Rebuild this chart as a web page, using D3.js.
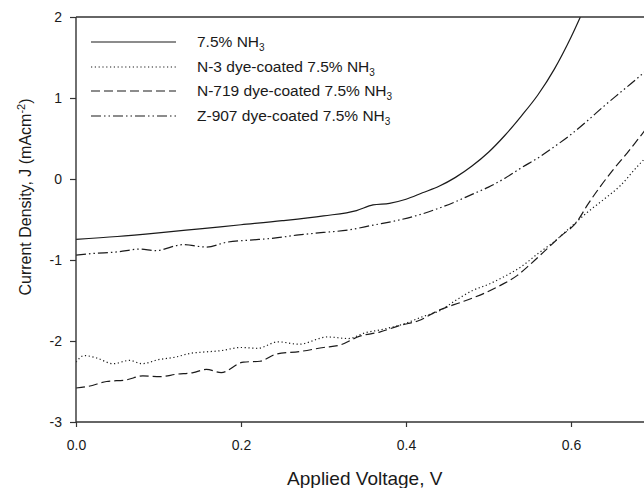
<!DOCTYPE html>
<html>
<head>
<meta charset="utf-8">
<script src="https://cdn.jsdelivr.net/npm/d3@7/dist/d3.min.js"></script>
<style>
    body { margin: 0; background: white; }
    svg { display: block; }
</style>
</head>
<body>
<div id="chart"></div>
<script>
// J-V curves

var xTicks = [0.0, 0.2, 0.4, 0.6];
var yTicks = [-3, -2, -1, 0, 1, 2];

var nh3V = [0, 0.05, 0.10, 0.15, 0.20, 0.25, 0.30, 0.34, 0.36, 0.38, 0.40, 0.42, 0.44, 0.46, 0.48, 0.50, 0.52, 0.54, 0.56, 0.58, 0.60, 0.62];
var nh3J = [-0.745, -0.71, -0.665, -0.615, -0.565, -0.515, -0.455, -0.39, -0.32, -0.30, -0.25, -0.17, -0.09, 0.02, 0.16, 0.33, 0.54, 0.78, 1.04, 1.36, 1.75, 2.2];

var n3V = [0, 0.01, 0.025, 0.045, 0.065, 0.08, 0.10, 0.12, 0.14, 0.15, 0.175, 0.20, 0.22, 0.245, 0.27, 0.305, 0.33, 0.35, 0.37, 0.40, 0.42, 0.44, 0.46, 0.48, 0.50, 0.52, 0.54, 0.56, 0.58, 0.60, 0.62, 0.64, 0.66, 0.68, 0.70];
var n3J = [-2.26, -2.18, -2.21, -2.28, -2.24, -2.28, -2.23, -2.20, -2.15, -2.14, -2.12, -2.08, -2.09, -2.01, -2.04, -1.95, -1.97, -1.90, -1.86, -1.78, -1.70, -1.63, -1.50, -1.38, -1.30, -1.20, -1.08, -0.92, -0.77, -0.59, -0.41, -0.25, -0.08, 0.15, 0.36];

var n719V = [0, 0.015, 0.037, 0.061, 0.081, 0.102, 0.122, 0.142, 0.158, 0.176, 0.203, 0.223, 0.243, 0.271, 0.30, 0.32, 0.344, 0.368, 0.392, 0.415, 0.44, 0.47, 0.495, 0.515, 0.535, 0.55, 0.567, 0.587, 0.607, 0.62, 0.635, 0.65, 0.668, 0.688, 0.70];
var n719J = [-2.58, -2.56, -2.50, -2.48, -2.43, -2.44, -2.41, -2.39, -2.35, -2.39, -2.26, -2.25, -2.16, -2.13, -2.08, -2.05, -1.94, -1.89, -1.81, -1.75, -1.62, -1.51, -1.41, -1.31, -1.19, -1.06, -0.90, -0.71, -0.53, -0.32, -0.10, 0.10, 0.32, 0.58, 0.74];

var z907V = [0, 0.02, 0.05, 0.078, 0.096, 0.13, 0.158, 0.183, 0.21, 0.24, 0.27, 0.30, 0.33, 0.36, 0.39, 0.42, 0.44, 0.46, 0.48, 0.50, 0.52, 0.54, 0.56, 0.58, 0.60, 0.62, 0.64, 0.66, 0.68, 0.70];
var z907J = [-0.94, -0.92, -0.90, -0.865, -0.885, -0.81, -0.84, -0.78, -0.755, -0.73, -0.69, -0.66, -0.63, -0.57, -0.51, -0.43, -0.36, -0.28, -0.19, -0.10, 0.01, 0.14, 0.26, 0.40, 0.55, 0.72, 0.90, 1.07, 1.24, 1.42];

var seriesNames = ["7.5% NH", "N-3 dye-coated 7.5% NH", "N-719 dye-coated 7.5% NH", "Z-907 dye-coated 7.5% NH"];

function DrawChart() {
    var w = 644, h = 488;
    var left = 76, top = 17, right = 653.5, bottom = 422;
    var font = "'Liberation Sans', Arial, sans-serif";
    var ink = "#1a1a1a";

    var dashes = [null, "1.2,2.6", "9,4", "10,3,1.5,3,1.5,3"];

    var series = [
	{name: seriesNames[0], v: nh3V, j: nh3J},
	{name: seriesNames[1], v: n3V, j: n3J},
	{name: seriesNames[2], v: n719V, j: n719J},
	{name: seriesNames[3], v: z907V, j: z907J}
    ];

    var x = d3.scaleLinear().domain([0, 0.7]).range([left, right]);
    var y = d3.scaleLinear().domain([-3, 2]).range([bottom, top]);

    var svg = d3.select("#chart").append("svg")
	.attr("width", w)
	.attr("height", h)
	.style("font-family", font);

    svg.append("clipPath").attr("id", "plotclip")
	.append("rect")
	.attr("x", left).attr("y", top)
	.attr("width", right - left).attr("height", bottom - top);

    // Curves
    var line = d3.line()
	.x(function(d) { return x(d[0]); })
	.y(function(d) { return y(d[1]); })
	.curve(d3.curveMonotoneX);

    svg.append("g").attr("clip-path", "url(#plotclip)")
	.selectAll("path")
	.data(series)
	.enter().append("path")
	.attr("d", function(s) { return line(d3.zip(s.v, s.j)); })
	.attr("fill", "none")
	.attr("stroke", ink)
	.attr("stroke-width", 1.2)
	.attr("stroke-dasharray", function(s, i) { return dashes[i]; });

    // Axes (plain hyphen for negatives, like the original)
    var xAxis = svg.append("g")
	.attr("transform", "translate(0," + bottom + ")")
	.call(d3.axisBottom(x).tickValues(xTicks).tickFormat(function(d) { return d.toFixed(1); })
	      .tickSize(5).tickSizeOuter(0).tickPadding(13));
    xAxis.selectAll("text").style("font-size", "14px").attr("fill", ink);

    var yAxis = svg.append("g")
	.attr("transform", "translate(" + left + ",0)")
	.call(d3.axisLeft(y).tickValues(yTicks).tickFormat(function(d) { return String(d); })
	      .tickSize(6).tickSizeOuter(0).tickPadding(8));
    yAxis.selectAll("text").style("font-size", "14px").attr("fill", ink);

    svg.selectAll(".domain, .tick line").attr("stroke", "#333").attr("stroke-width", 1.2);
    svg.selectAll(".domain").attr("d", null);
    xAxis.append("line").attr("x1", left).attr("x2", w).attr("stroke", "#333").attr("stroke-width", 1.4);
    yAxis.append("line").attr("y1", top).attr("y2", bottom).attr("stroke", "#333").attr("stroke-width", 1.4);
    // frame top
    svg.append("line")
	.attr("x1", left).attr("x2", w)
	.attr("y1", top).attr("y2", top)
	.attr("stroke", "#333").attr("stroke-width", 1.4);

    // Axis titles
    svg.append("text")
	.attr("x", (left + right) / 2)
	.attr("y", 485)
	.attr("text-anchor", "middle")
	.attr("fill", ink)
	.style("font-size", "19px")
	.text("Applied Voltage, V");

    var yt = svg.append("text")
	.attr("transform", "translate(31,197) rotate(-90)")
	.attr("text-anchor", "middle")
	.attr("fill", ink)
	.style("font-size", "16px");
    yt.append("tspan").text("Current Density, J (mAcm");
    yt.append("tspan").attr("dy", -6).style("font-size", "11px").text("-2");
    yt.append("tspan").attr("dy", 6).text(")");

    // Legend
    var rowY = [42, 67, 91, 116];
    var leg = svg.selectAll("g.legend")
	.data(series)
	.enter().append("g")
	.attr("class", "legend")
	.attr("transform", function(d, i) { return "translate(0," + rowY[i] + ")"; });
    leg.append("line")
	.attr("x1", 91).attr("x2", 176)
	.attr("stroke", ink)
	.attr("stroke-width", 1.2)
	.attr("stroke-dasharray", function(d, i) { return dashes[i]; });
    var lt = leg.append("text")
	.attr("x", 197)
	.attr("y", 5)
	.attr("fill", ink)
	.style("font-size", "15.5px");
    lt.append("tspan").text(function(d) { return d.name; });
    lt.append("tspan").attr("dy", 4).style("font-size", "10px").text("3");
}

DrawChart();
</script>
</body>
</html>
